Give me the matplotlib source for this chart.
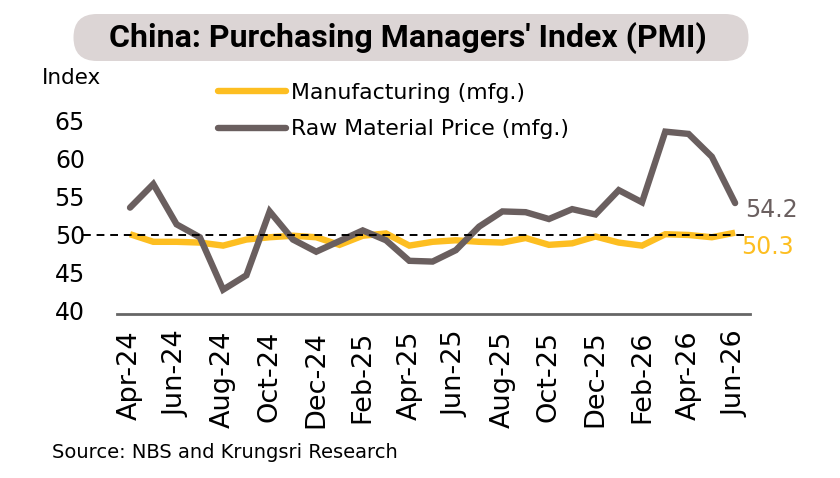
import matplotlib
matplotlib.use("Agg")
import matplotlib.pyplot as plt
from matplotlib.patches import FancyBboxPatch
from matplotlib.lines import Line2D

months = ["Apr-24", "May-24", "Jun-24", "Jul-24", "Aug-24", "Sep-24", "Oct-24", "Nov-24", "Dec-24",
          "Jan-25", "Feb-25", "Mar-25", "Apr-25", "May-25", "Jun-25", "Jul-25", "Aug-25", "Sep-25",
          "Oct-25", "Nov-25", "Dec-25", "Jan-26", "Feb-26", "Mar-26", "Apr-26", "May-26", "Jun-26"]
manufacturing = [50.1, 49.1, 49.1, 49.0, 48.6, 49.4, 49.7, 49.9, 49.7,
                 48.7, 49.9, 50.2, 48.6, 49.1, 49.3, 49.1, 49.0, 49.6,
                 48.7, 48.9, 49.8, 49.0, 48.6, 50.1, 50.0, 49.7, 50.3]
raw_material = [53.6, 56.7, 51.4, 49.7, 42.8, 44.7, 53.1, 49.4, 47.8,
                49.2, 50.6, 49.3, 46.6, 46.5, 48.0, 51.1, 53.1, 53.0,
                52.1, 53.4, 52.7, 55.9, 54.3, 63.6, 63.3, 60.3, 54.2]
yticks = [40, 45, 50, 55, 60, 65]
series_names = ["Manufacturing (mfg.)", "Raw Material Price (mfg.)"]
title = "China: Purchasing Managers' Index (PMI)"
source = "Source: NBS and Krungsri Research"

YELLOW = "#FDBE21"
GRAY = "#6A5F5F"
BOX = "#DCD5D5"

W, H = 840, 478
fig = plt.figure(figsize=(W / 100, H / 100), dpi=100)
fig.patch.set_facecolor("white")

def fx(px):
    return px / W

def fy(py):
    return 1 - py / H

# overlay in pixel coordinates for the title pill
bg = fig.add_axes([0, 0, 1, 1], zorder=0)
bg.set_xlim(0, W)
bg.set_ylim(H, 0)
bg.axis("off")
bg.add_patch(FancyBboxPatch((73 + 24, 14 + 23.5), (749 - 73) - 48, 0,
                            boxstyle="round,pad=23.5,rounding_size=23.5",
                            facecolor=BOX, edgecolor="none"))

ax = fig.add_axes([fx(117), fy(314), fx(750) - fx(117), fy(105.8) - fy(314)], zorder=2)
ax.patch.set_alpha(0)
x = list(range(len(months)))

ax.plot(x, manufacturing, color=YELLOW, lw=4.6, solid_joinstyle="miter", solid_capstyle="butt", zorder=3)
ax.plot(x, raw_material, color=GRAY, lw=4.6, solid_joinstyle="miter", solid_capstyle="round", zorder=4)
ax.plot([-2.0, 26.4], [50, 50], color="black", lw=1.4, ls=(0, (4, 3)), clip_on=False, zorder=5)

ax.set_xlim(-0.56, 26.64)
ax.set_ylim(39.6, 67)
ax.set_xticks(x[::2])
ax.set_xticklabels(months[::2], rotation=90, fontsize=19.5, family="DejaVu Sans")
ax.set_yticks(yticks)
ax.set_yticklabels([str(v) for v in yticks], fontsize=17, family="DejaVu Sans")
ax.tick_params(axis="x", length=0, pad=12)
ax.tick_params(axis="y", length=0, pad=23)
for s in ["top", "right", "left"]:
    ax.spines[s].set_visible(False)
ax.spines["bottom"].set_color("#666666")
ax.spines["bottom"].set_linewidth(2)

ax.annotate(f"{raw_material[-1]:.1f}", (x[-1], raw_material[-1]), xytext=(7, -5),
            textcoords="offset points", ha="left", va="center", fontsize=17, color=GRAY)
ax.annotate(f"{manufacturing[-1]:.1f}", (x[-1], manufacturing[-1]), xytext=(4, -10),
            textcoords="offset points", ha="left", va="center", fontsize=17, color=YELLOW)

handles = [Line2D([], [], color=YELLOW, lw=4.6, solid_capstyle="round"),
           Line2D([], [], color=GRAY, lw=4.6, solid_capstyle="round")]
fig.legend(handles, series_names, loc="center left", bbox_to_anchor=(fx(218), fy(111)),
           frameon=False, fontsize=15.8, handlelength=3.1, handletextpad=0.23,
           labelspacing=0.77, borderpad=0, borderaxespad=0)

fig.text(fx(71), fy(78), "Index", ha="center", va="center", fontsize=15.5)

fig.text(fx(408), fy(38), title, ha="center", va="center", fontsize=23,
         fontweight="bold", family="Roboto", zorder=3)

fig.text(fx(52), fy(453), source, ha="left", va="center", fontsize=14)

fig.savefig("out.png", dpi=100, facecolor="white")
